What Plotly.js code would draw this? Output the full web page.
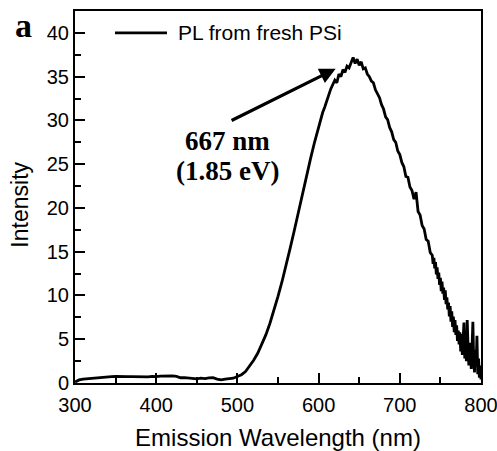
<!DOCTYPE html>
<html>
<head>
<meta charset="utf-8">
<script src="https://cdn.plot.ly/plotly-3.0.1.min.js"></script>
<style>html,body{margin:0;padding:0;background:#fff;}#chart{width:497px;height:451px;}</style>
</head>
<body>
<div id="chart"></div>
<script>
// Wavelength (nm)
const wavelength = [
  300,305,310,315,320,325,330,335,340,345,350,355,360,365,370,375,380,385,390,395,
  400,405,410,415,420,425,430,435,440,445,450,455,460,465,470,475,480,485,490,495,
  500,505,510,515,520,525,530,535,540,545,550,555,560,565,570,575,580,585,590,595,
  600,602.5,605,607.5,610,612.5,615,617.5,620,622.5,625,627.5,630,632.5,635,637.5,
  640,642.5,645,647.5,650,652.5,655,657.5,660,662.5,665,667.5,670,672.5,675,677.5,
  680,682.5,685,687.5,690,692.5,695,697.5,700,702.5,705,707.5,710,712.5,715,717.5,
  720,722.5,725,727.5,730,732.5,735,737.5,740,
  741,742,743,744,745,746,747,748,749,750,751,752,753,754,755,756,757,758,759,760,
  761,762,763,764,765,766,767,768,769,770,771,772,773,774,775,776,777,778,779,780,
  781,782,783,784,785,786,787,788,789,790,791,792,793,794,795,796,797,798,799,800
];
// PL intensity (a.u.)
const intensity = [
  0.1,0.35,0.45,0.5,0.55,0.6,0.62,0.68,0.7,0.72,0.75,0.72,0.74,0.73,0.72,0.7,0.74,0.72,0.7,0.75,
  0.72,0.78,0.8,0.85,0.82,0.75,0.6,0.62,0.55,0.5,0.48,0.55,0.5,0.58,0.6,0.45,0.35,0.45,0.5,0.55,
  0.75,0.95,1.3,1.9,2.6,3.4,4.4,5.5,6.8,8.3,9.9,11.6,13.4,15.4,17.4,19.5,21.6,23.6,25.6,27.5,
  29.3,30.0,30.9,31.5,32.3,32.9,33.6,34.1,34.6,34.3,35.3,35.0,35.8,35.5,36.2,36.0,
  36.6,37.2,36.5,37.0,36.3,36.7,35.9,36.0,35.3,35.0,34.5,34.3,33.5,33.0,32.6,31.8,
  31.3,30.4,30.1,29.2,28.7,27.8,27.5,26.5,26.1,25.2,24.7,23.6,23.5,22.4,22.0,21.0,
  21.8,19.6,19.2,18.0,17.6,16.4,16.2,14.9,14.6,
  13.6,14.3,13.1,13.8,12.4,13.2,11.9,12.6,11.2,12.0,10.5,11.6,10.2,10.9,9.5,10.6,9.0,9.8,8.4,9.2,
  7.6,8.8,7.0,8.2,6.4,7.6,5.8,7.2,5.5,6.6,4.8,6.0,4.4,5.8,3.6,5.6,3.2,5.0,6.9,2.8,
  5.2,2.5,7.2,4.4,2.0,4.6,3.0,1.6,4.2,7.0,2.6,1.2,3.8,2.0,5.4,1.0,2.8,0.6,2.0,0.4
];
const xTicks = [300,400,500,600,700,800];
const yTicks = [0,5,10,15,20,25,30,35,40];
const seriesName = 'PL from fresh PSi';
const xTitle = 'Emission Wavelength (nm)';
const yTitle = 'Intensity';
const peakLabel = ['667 nm', '(1.85 eV)'];

const trace = {
  x: wavelength, y: intensity, type: 'scatter', mode: 'lines',
  name: seriesName, line: {color: '#000', width: 2.8}, showlegend: false
};

const sans = 'Liberation Sans, Arial, sans-serif';
const serif = 'Liberation Serif, Times New Roman, serif';

const axisCommon = {
  showgrid: false, zeroline: false, showline: true, linecolor: '#000', linewidth: 2,
  mirror: true, ticks: 'inside', ticklen: 10, tickwidth: 2, tickcolor: '#000',
  ticklabeloverflow: 'allow',
  tickfont: {family: sans, size: 20, color: '#000'}
};

const layout = {
  width: 497, height: 451,
  margin: {l: 75, r: 16, t: 11, b: 68},
  paper_bgcolor: '#fff', plot_bgcolor: '#fff',
  xaxis: Object.assign({}, axisCommon, {
    range: [300, 800], tickvals: xTicks, ticktext: xTicks.map(String),
    ticklabelstandoff: 3,
    minor: {dtick: 50, ticks: 'inside', ticklen: 6, tickwidth: 2, tickcolor: '#000'},
    title: {text: xTitle, standoff: 20,
            font: {family: sans, size: 24, color: '#000'}}
  }),
  yaxis: Object.assign({}, axisCommon, {
    range: [0, 42.5], tickvals: yTicks, ticktext: yTicks.map(String),
    minor: {dtick: 2.5, ticks: 'inside', ticklen: 6, tickwidth: 2, tickcolor: '#000'}
  }),
  shapes: [
    {type: 'line', xref: 'paper', yref: 'paper', x0: 0.0985, x1: 0.2266, y0: 0.941, y1: 0.941,
     line: {color: '#000', width: 2.8}}
  ],
  annotations: [
    {xref: 'paper', yref: 'paper', x: -0.135, y: 0.48, xanchor: 'center', yanchor: 'middle',
     text: yTitle, textangle: -90, showarrow: false,
     font: {family: sans, size: 23, color: '#000'}},
    {xref: 'paper', yref: 'paper', x: 0.249, y: 0.941, xanchor: 'left', yanchor: 'middle',
     text: seriesName, showarrow: false,
     font: {family: sans, size: 21, color: '#000'}},
    {xref: 'x', yref: 'y', x: 621, y: 35.9, ax: 491, ay: 29.9, axref: 'x', ayref: 'y',
     text: '', showarrow: true, arrowhead: 2, arrowsize: 1, arrowwidth: 3.2, arrowcolor: '#000'},
    {xref: 'x', yref: 'y', x: 488, y: 27.6, text: '<b>' + peakLabel[0] + '</b>', showarrow: false,
     xanchor: 'center', yanchor: 'middle',
     font: {family: serif, size: 27, color: '#000'}},
    {xref: 'x', yref: 'y', x: 488, y: 24.2, text: '<b>' + peakLabel[1] + '</b>', showarrow: false,
     xanchor: 'center', yanchor: 'middle',
     font: {family: serif, size: 27, color: '#000'}},
    {xref: 'paper', yref: 'paper', x: -0.128, y: 0.962, xanchor: 'center', yanchor: 'middle',
     text: '<b>a</b>', showarrow: false,
     font: {family: serif, size: 34, color: '#000'}}
  ]
};

Plotly.newPlot('chart', [trace], layout, {displayModeBar: false, staticPlot: true});
</script>
</body>
</html>
